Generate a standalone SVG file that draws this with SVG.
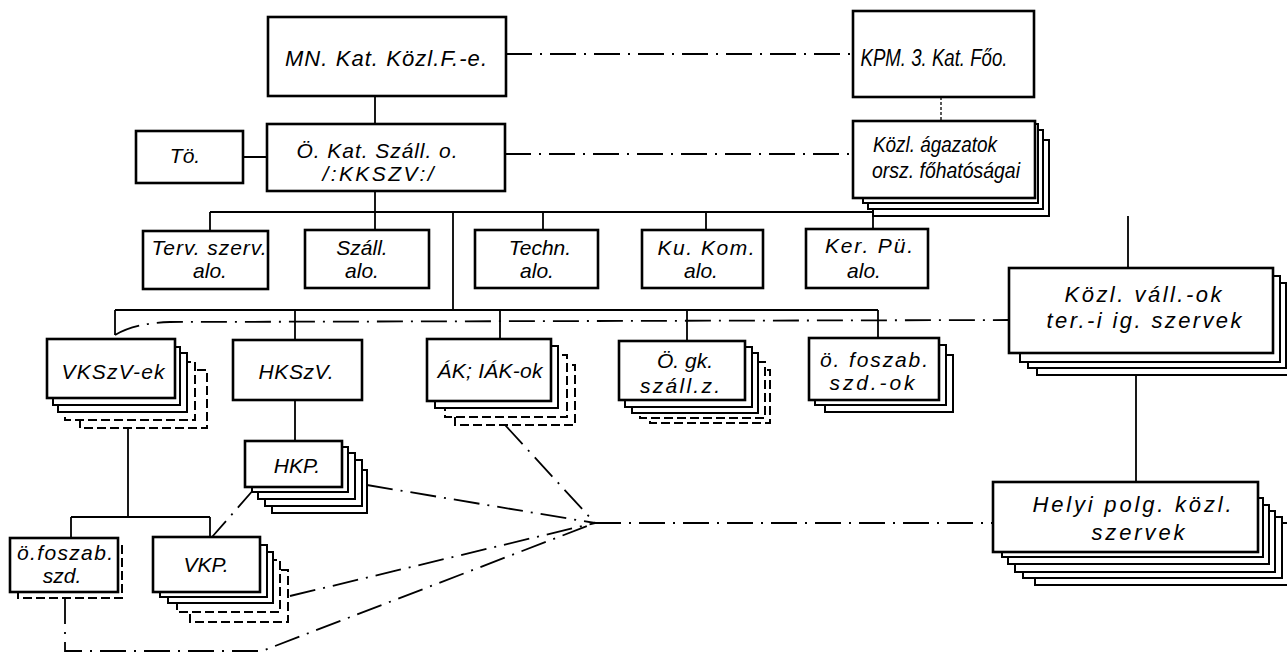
<svg xmlns="http://www.w3.org/2000/svg" width="1287" height="655" viewBox="0 0 1287 655">
<style>
.box{fill:#fff;stroke:#000;stroke-width:2.6}
.lay{fill:#fff;stroke:#000;stroke-width:2}
.layd{fill:#fff;stroke:#000;stroke-width:2;stroke-dasharray:9 4}
.ln{fill:none;stroke:#000;stroke-width:1.8}
.dd{fill:none;stroke:#000;stroke-width:1.8;stroke-dasharray:26 8 2 8}
.dt{fill:none;stroke:#000;stroke-width:1.3;stroke-dasharray:3 2}
text{font-family:"Liberation Sans",Arial,sans-serif;font-style:italic;font-size:21px;text-anchor:middle;fill:#000}
.big{font-size:22px}
.cond{font-size:23px}
</style>
<rect x="0" y="0" width="1287" height="655" fill="#fff"/>
<g id="connectors">
<path class="ln" d="M375,96V124 M243,157H267 M375,191V212 M210,212H873 M210,212V231 M375,212V230 M543,212V230 M706,212V230 M873,212V229 M453,212V310 M115,310H878 M115,310V335 M295,310V340 M500,310V339 M687,310V341 M878,310V338 M295,400V441 M128,428V517 M71,517H210 M71,517V538 M210,517V537 M1128,216V268 M1136,375V482"/>
<path class="dt" d="M941,97V121"/>
<path class="dd" d="M506,54H853"/>
<path class="dd" d="M505,154H853"/>
<path class="dd" d="M115,335Q135,323 170,322L1009,320"/>
<path class="dd" d="M255,488L212,537"/>
<path class="dd" d="M367,485L595,523"/>
<path class="dd" d="M505,425L595,523"/>
<path class="dd" d="M290,596L595,523"/>
<path class="dd" d="M65,598V651H262L595,523"/>
<path class="dd" d="M595,523H993"/>
</g>
<g id="n-mn"><rect class="box" x="268" y="17" width="238" height="79"/><text class="big" x="386" y="66" textLength="202" lengthAdjust="spacing">MN. Kat. Közl.F.-e.</text></g>
<g id="n-kpm"><rect class="box" x="853" y="11" width="181" height="86"/><text class="cond" x="934" y="66" textLength="147" lengthAdjust="spacingAndGlyphs">KPM. 3. Kat. Főo.</text></g>
<g id="n-to"><rect class="box" x="136" y="131" width="107" height="52"/><text x="185" y="163">Tö.</text></g>
<g id="n-okat"><rect class="box" x="267" y="124" width="238" height="67"/><text x="377" y="158" textLength="161" lengthAdjust="spacing">Ö. Kat. Száll. o.</text><text x="378" y="181" textLength="111" lengthAdjust="spacing">/:KKSZV:/</text></g>
<g id="n-agazat"><rect class="lay" x="873" y="140" width="176" height="76"/><rect class="lay" x="868" y="130" width="175" height="79"/><rect class="lay" x="863" y="124" width="175" height="79"/><rect class="box" x="853" y="121" width="182" height="77"/><text class="big" x="935" y="152" textLength="124" lengthAdjust="spacingAndGlyphs">Közl. ágazatok</text><text class="big" x="946" y="178" textLength="148" lengthAdjust="spacingAndGlyphs">orsz. főhatóságai</text></g>
<g id="n-terv"><rect class="box" x="143" y="231" width="125" height="58"/><text x="209" y="255" textLength="115" lengthAdjust="spacing">Terv. szerv.</text><text x="210" y="278">alo.</text></g>
<g id="n-szall"><rect class="box" x="305" y="230" width="124" height="58"/><text x="362" y="255">Száll.</text><text x="362" y="278">alo.</text></g>
<g id="n-techn"><rect class="box" x="475" y="230" width="123" height="58"/><text x="540" y="255">Techn.</text><text x="537" y="278">alo.</text></g>
<g id="n-kukom"><rect class="box" x="642" y="230" width="121" height="58"/><text x="706" y="255" textLength="97" lengthAdjust="spacing">Ku. Kom.</text><text x="701" y="278">alo.</text></g>
<g id="n-kerpu"><rect class="box" x="806" y="229" width="122" height="59"/><text x="869" y="253" textLength="88" lengthAdjust="spacing">Ker. Pü.</text><text x="864" y="278">alo.</text></g>
<g id="n-vall"><rect class="lay" x="1037" y="290" width="256" height="85"/><rect class="lay" x="1028" y="283" width="258" height="85"/><rect class="lay" x="1020" y="276" width="260" height="86"/><rect class="box" x="1009" y="268" width="264" height="85"/><text class="big" x="1143" y="302" textLength="157" lengthAdjust="spacing">Közl. váll.-ok</text><text class="big" x="1144" y="328" textLength="195" lengthAdjust="spacing">ter.-i ig. szervek</text></g>
<g id="n-vkszv"><rect class="layd" x="80" y="370" width="127" height="58"/><rect class="layd" x="65" y="362" width="130" height="58"/><rect class="lay" x="58" y="353" width="129" height="59"/><rect class="lay" x="53" y="347" width="127" height="58"/><rect class="box" x="47" y="339" width="128" height="59"/><text x="113" y="379" textLength="103" lengthAdjust="spacing">VKSzV-ek</text></g>
<g id="n-hkszv"><rect class="box" x="233" y="340" width="129" height="60"/><text x="296" y="379" textLength="75" lengthAdjust="spacing">HKSzV.</text></g>
<g id="n-ak"><rect class="layd" x="455" y="365" width="120" height="60"/><rect class="layd" x="445" y="355" width="122" height="62"/><rect class="lay" x="435" y="346" width="123" height="62"/><rect class="box" x="427" y="339" width="124" height="62"/><text x="490" y="378" textLength="105" lengthAdjust="spacing">ÁK; IÁK-ok</text></g>
<g id="n-ogk"><rect class="layd" x="650" y="370" width="120" height="53"/><rect class="layd" x="640" y="362" width="125" height="56"/><rect class="lay" x="632" y="353" width="126" height="60"/><rect class="lay" x="625" y="347" width="127" height="60"/><rect class="box" x="619" y="341" width="126" height="59"/><text x="685" y="368">Ö. gk.</text><text x="680" y="393" textLength="80" lengthAdjust="spacing">száll.z.</text></g>
<g id="n-foszabok"><rect class="lay" x="825" y="355" width="128" height="57"/><rect class="lay" x="815" y="345" width="131" height="60"/><rect class="box" x="809" y="338" width="130" height="62"/><text x="874" y="367" textLength="108" lengthAdjust="spacing">ö. foszab.</text><text x="872" y="390" textLength="85" lengthAdjust="spacing">szd.-ok</text></g>
<g id="n-hkp"><rect class="lay" x="272" y="470" width="95" height="43"/><rect class="lay" x="265" y="460" width="97" height="46"/><rect class="lay" x="258" y="453" width="97" height="46"/><rect class="lay" x="252" y="447" width="96" height="45"/><rect class="box" x="245" y="441" width="97" height="46"/><text x="297" y="473">HKP.</text></g>
<g id="n-foszab"><rect class="layd" x="18" y="545" width="104" height="53"/><rect class="box" x="10" y="538" width="108" height="54"/><text x="65" y="560" textLength="96" lengthAdjust="spacing">ö.foszab.</text><text x="62" y="583">szd.</text></g>
<g id="n-vkp"><rect class="layd" x="190" y="570" width="98" height="52"/><rect class="layd" x="177" y="560" width="103" height="52"/><rect class="lay" x="168" y="552" width="105" height="51"/><rect class="lay" x="160" y="545" width="107" height="52"/><rect class="box" x="153" y="537" width="107" height="55"/><text x="206" y="572">VKP.</text></g>
<g id="n-helyi"><rect class="lay" x="1035" y="523" width="255" height="62"/><rect class="lay" x="1023" y="517" width="259" height="61"/><rect class="lay" x="1015" y="511" width="260" height="61"/><rect class="lay" x="1008" y="505" width="261" height="59"/><rect class="lay" x="1002" y="498" width="261" height="59"/><rect class="box" x="993" y="482" width="265" height="70"/><text class="big" x="1132" y="512" textLength="199" lengthAdjust="spacing">Helyi polg. közl.</text><text class="big" x="1138" y="540" textLength="93" lengthAdjust="spacing">szervek</text></g>
</svg>
